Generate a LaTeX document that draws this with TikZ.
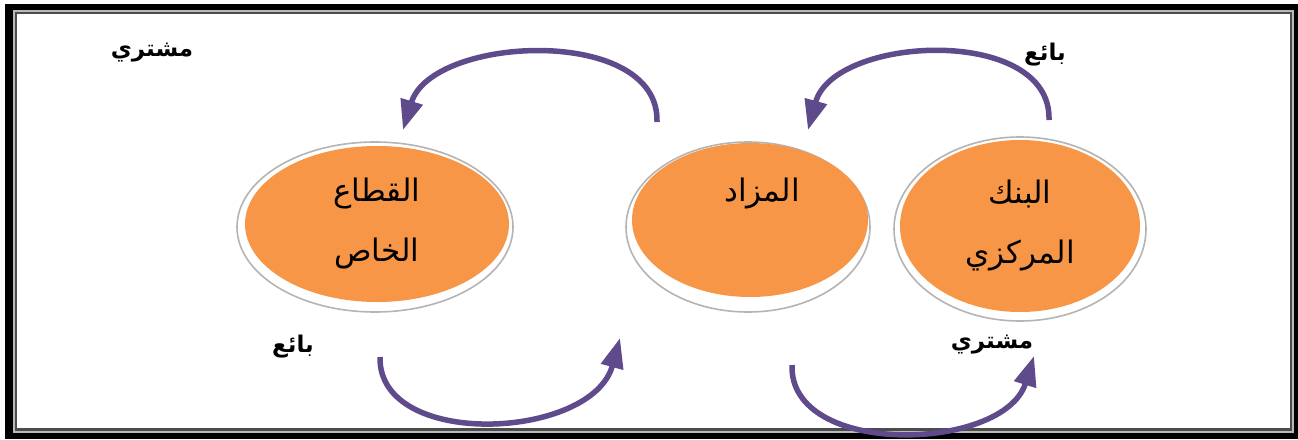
\documentclass[tikz,border=0pt]{standalone}
\usepackage{fontspec}
\usetikzlibrary{shapes.geometric,arrows.meta}
\TeXXeTstate=1
\newfontfamily\arabicfont[Script=Arabic]{DejaVu Sans}
\definecolor{orng}{HTML}{F79646}
\definecolor{purp}{HTML}{5F4B8B}
\definecolor{rimgray}{HTML}{B4B4B4}
\tikzset{
  bubble/.style={ellipse, fill=orng, inner sep=0pt, align=center,
    font=\arabicfont\fontsize{31}{60}\selectfont},
  rim/.style={ellipse, fill=white, draw=rimgray, line width=1.6pt, inner sep=0pt},
  lbl/.style={font=\arabicfont\bfseries\fontsize{23}{26}\selectfont, inner sep=0pt},
  flow/.style={draw=purp, line width=5.5pt,
    -{Triangle[length=30pt,width=22pt]}},
}
\begin{document}
\begin{tikzpicture}[x=1pt,y=-1pt]
\useasboundingbox (0,0) rectangle (1298,439);
\fill[white] (0,0) rectangle (1298,439);
% frame
\fill[black] (5,4) rectangle (1298,439);
\fill[gray!55] (13,10) rectangle (1294,433);
\fill[black!70] (15,12) rectangle (1292,431);
\fill[white] (17,14) rectangle (1290,428);

% ellipse rims
\node[rim, minimum width=276pt, minimum height=170pt] (rimL) at (375,227) {};
\node[rim, minimum width=244pt, minimum height=170pt] (rimM) at (748,227) {};
\node[rim, minimum width=252pt, minimum height=184pt] (rimR) at (1020,229) {};

% ellipses
\node[bubble, minimum width=264pt, minimum height=156pt] (priv) at (377,224)
  {\beginR القطاع\endR\\\beginR الخاص\endR};
\node[bubble, minimum width=236pt, minimum height=154pt] (auct) at (750,220) {};
\node[font=\arabicfont\fontsize{31}{36}\selectfont, inner sep=0pt] (auctt) at (762,194) {\beginR المزاد\endR};
\node[bubble, minimum width=240pt, minimum height=172pt] (bank) at (1020,226)
  {\beginR البنك\endR\\\beginR المركزي\endR};

% labels
\node[lbl] (buyTL) at (152,53) {\beginR مشتري\endR};
\node[lbl] (sellTR) at (1045,55) {\beginR بائع\endR};
\node[lbl] (sellBL) at (293,347) {\beginR بائع\endR};
\node[lbl] (buyBR) at (992,345) {\beginR مشتري\endR};

% arrow end points
\coordinate (a1s) at (657,122);
\coordinate (a1e) at (403,130);
\coordinate (a2s) at (1049,120);
\coordinate (a2e) at (808,130);
\coordinate (a3s) at (380,357);
\coordinate (a3e) at (620,338);
\coordinate (a4s) at (792,365);
\coordinate (a4e) at (1034,356);

\draw[flow] (a1s) .. controls (660,25) and (432,35) .. (a1e);
\draw[flow] (a2s) .. controls (1052,25) and (834,35) .. (a2e);
\draw[flow] (a3s) .. controls (378,450) and (592,440) .. (a3e);
\draw[flow] (a4s) .. controls (789,458) and (1004,452) .. (a4e);
\end{tikzpicture}
\end{document}
